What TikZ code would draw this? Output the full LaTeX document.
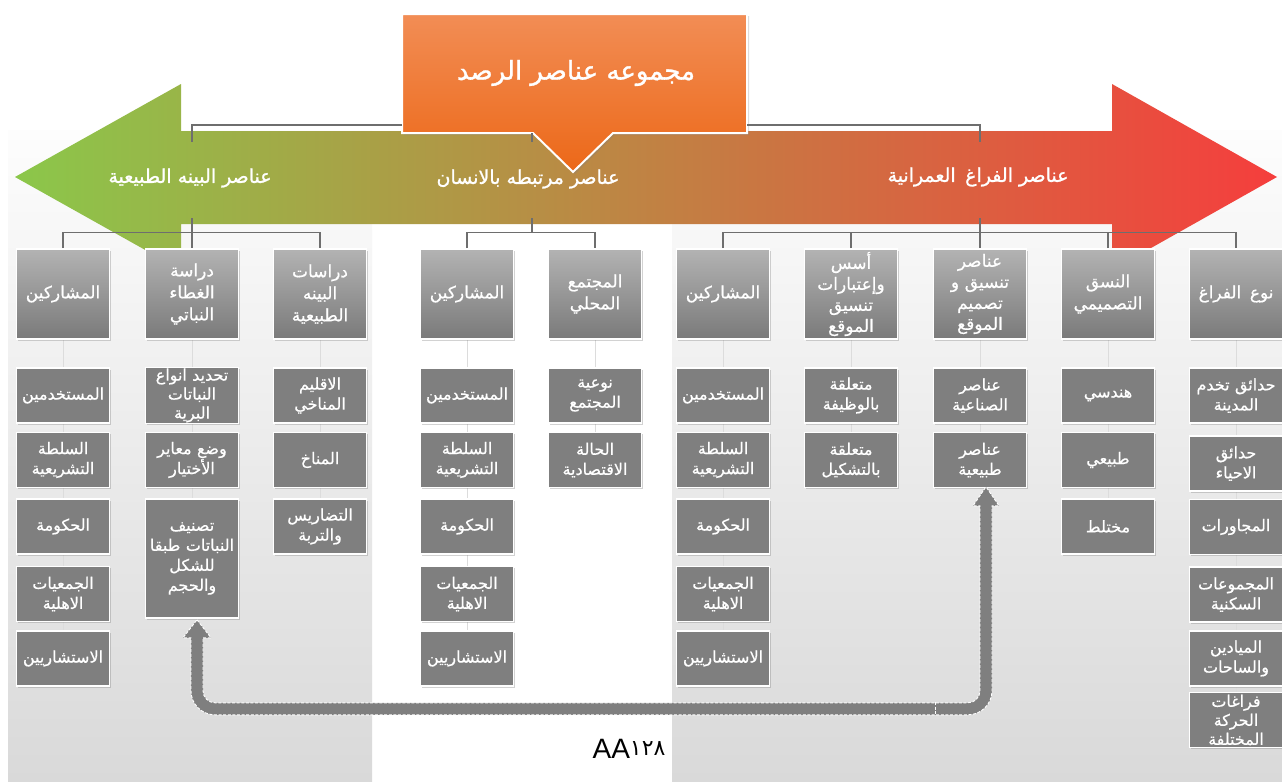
\documentclass[tikz,border=0pt]{standalone}
\usepackage{fontspec}
\setmainfont{Liberation Sans}
\newfontfamily\arabicfont[Script=Arabic,FakeBold=0.6]{DejaVu Sans}
\newfontfamily\arabicheavy[Script=Arabic,FakeBold=1.2]{DejaVu Sans}
\TeXXeTstate=1
\usetikzlibrary{shadows,calc}
\pgfdeclarelayer{bg}
\pgfdeclarelayer{mid}
\pgfsetlayers{bg,mid,main}
\newcommand\RLt[1]{\mbox{\beginR#1\endR}}
\definecolor{agreen}{HTML}{8BC74A}
\definecolor{abrown}{HTML}{C97B42}
\definecolor{ared}{HTML}{F53E3D}
\definecolor{otop}{HTML}{F28D55}
\definecolor{obot}{HTML}{EC6818}
\definecolor{hdtop}{HTML}{B3B3B3}
\definecolor{hdbot}{HTML}{7A7A7A}
\definecolor{itemgray}{HTML}{7F7F7F}
\definecolor{conngray}{HTML}{6E6E6E}
\definecolor{faintgray}{HTML}{DCDCDC}
\definecolor{paneltop}{HTML}{FDFDFD}
\definecolor{panelbot}{HTML}{D9D9D9}
\begin{document}
\begin{tikzpicture}[x=0.5pt,y=-0.5pt,
  boxshadow/.style={drop shadow={shadow xshift=0.7pt,shadow yshift=-0.9pt,opacity=0.35}},
  hdr/.style={rectangle,draw=white,line width=0.8pt,top color=hdtop,bottom color=hdbot,
    minimum width=46.5pt,minimum height=45pt,text width=45pt,inner sep=0.5pt,align=center,
    text=white,font=\arabicfont\fontsize{8.5}{11}\selectfont,boxshadow},
  itm/.style={rectangle,draw=white,line width=0.8pt,fill=itemgray,
    minimum width=46.5pt,minimum height=27.5pt,text width=45pt,inner sep=0.5pt,align=center,
    text=white,font=\arabicfont\fontsize{8}{10}\selectfont,boxshadow},
  lbl/.style={text=white,font=\arabicheavy\fontsize{9.5}{11}\selectfont,inner sep=1pt},
  conn/.style={draw=conngray,line width=0.55pt},
  faint/.style={draw=faintgray,line width=0.5pt},
  tight/.style={font=\arabicfont\fontsize{8}{9.5}\selectfont},
  tighthdr/.style={font=\arabicfont\fontsize{8.5}{10.5}\selectfont}]
\useasboundingbox (0,0) rectangle (1282,782);

\begin{pgfonlayer}{bg}
  \fill[white] (0,0) rectangle (1282,782);
  \shade[top color=paneltop,bottom color=panelbot] (8,130) rectangle (372,782);
  \shade[top color=paneltop,bottom color=panelbot] (672,130) rectangle (1282,782);
\end{pgfonlayer}

% big double-headed arrow
\shade[left color=agreen,middle color=abrown,right color=ared]
  (15,177) -- (181,84) -- (181,131) -- (1112,131) -- (1112,84) -- (1277,177)
  -- (1112,270) -- (1112,224) -- (181,224) -- (181,270) -- cycle;

% header boxes
\node[hdr] (h1) at (63,294) {\RLt{المشاركين}};
\node[hdr] (h2) at (192,294) {\RLt{دراسة}\\\RLt{الغطاء}\\\RLt{النباتي}};
\node[hdr] (h3) at (320,294) {\RLt{دراسات}\\\RLt{البينه}\\\RLt{الطبيعية}};
\node[hdr] (h4) at (467,294) {\RLt{المشاركين}};
\node[hdr] (h5) at (595,294) {\RLt{المجتمع}\\\RLt{المحلي}};
\node[hdr] (h6) at (723,294) {\RLt{المشاركين}};
\node[hdr,tighthdr] (h7) at (851,294) {\RLt{أسس}\\\RLt{وإعتبارات}\\\RLt{تنسيق}\\\RLt{الموقع}};
\node[hdr,tighthdr] (h8) at (980,294) {\RLt{عناصر}\\\RLt{تنسيق و}\\\RLt{تصميم}\\\RLt{الموقع}};
\node[hdr] (h9) at (1108,294) {\RLt{النسق}\\\RLt{التصميمي}};
\node[hdr] (h10) at (1236,294) {\RLt{نوع\hspace{0.5em}الفراغ}};

% participant columns
\foreach \cx/\cn in {63/c1,467/c4,723/c6}{
  \node[itm] (\cn-r1) at (\cx,395.5) {\RLt{المستخدمين}};
  \node[itm] (\cn-r2) at (\cx,460) {\RLt{السلطة}\\\RLt{التشريعية}};
  \node[itm] (\cn-r3) at (\cx,526.5) {\RLt{الحكومة}};
  \node[itm] (\cn-r4) at (\cx,594) {\RLt{الجمعيات}\\\RLt{الاهلية}};
  \node[itm] (\cn-r5) at (\cx,658.5) {\RLt{الاستشاريين}};
}
% column 2
\node[itm,tight] (c2-r1) at (192,395.5) {\RLt{تحديد انواع}\\\RLt{النباتات}\\\RLt{البرية}};
\node[itm] (c2-r2) at (192,460) {\RLt{وضع معاير}\\\RLt{الأختيار}};
\node[itm,minimum height=59.5pt] (c2-r3) at (192,558.5) {\RLt{تصنيف}\\\RLt{النباتات طبقا}\\\RLt{للشكل}\\\RLt{والحجم}};
% column 3
\node[itm] (c3-r1) at (320,395.5) {\RLt{الاقليم}\\\RLt{المناخي}};
\node[itm] (c3-r2) at (320,460) {\RLt{المناخ}};
\node[itm] (c3-r3) at (320,526.5) {\RLt{التضاريس}\\\RLt{والتربة}};
% column 5
\node[itm] (c5-r1) at (595,395.5) {\RLt{نوعية}\\\RLt{المجتمع}};
\node[itm] (c5-r2) at (595,460) {\RLt{الحالة}\\\RLt{الاقتصادية}};
% column 7
\node[itm] (c7-r1) at (851,395.5) {\RLt{متعلقة}\\\RLt{بالوظيفة}};
\node[itm] (c7-r2) at (851,460) {\RLt{متعلقة}\\\RLt{بالتشكيل}};
% column 8
\node[itm] (c8-r1) at (980,395.5) {\RLt{عناصر}\\\RLt{الصناعية}};
\node[itm] (c8-r2) at (980,460) {\RLt{عناصر}\\\RLt{طبيعية}};
% column 9
\node[itm] (c9-r1) at (1108,395.5) {\RLt{هندسي}};
\node[itm] (c9-r2) at (1108,460) {\RLt{طبيعي}};
\node[itm] (c9-r3) at (1108,526.5) {\RLt{مختلط}};
% column 10
\node[itm] (c10-r1) at (1236,395.5) {\RLt{حدائق تخدم}\\\RLt{المدينة}};
\node[itm] (c10-r2) at (1236,463.5) {\RLt{حدائق}\\\RLt{الاحياء}};
\node[itm] (c10-r3) at (1236,527) {\RLt{المجاورات}};
\node[itm] (c10-r4) at (1236,594.5) {\RLt{المجموعات}\\\RLt{السكنية}};
\node[itm] (c10-r5) at (1236,658.5) {\RLt{الميادين}\\\RLt{والساحات}};
\node[itm,tight] (c10-r6) at (1236,720) {\RLt{فراغات}\\\RLt{الحركة}\\\RLt{المختلفة}};

% faint column links
\begin{pgfonlayer}{mid}
  \foreach \hh/\ll in {h1/c1-r5,h2/c2-r3,h3/c3-r3,h4/c4-r5,h5/c5-r2,h6/c6-r5,h7/c7-r2,h8/c8-r2,h9/c9-r3,h10/c10-r6}
    \draw[faint] (\hh.south) -- (\ll.north);
\end{pgfonlayer}

% orange callout
\path[draw=white,line width=1pt,top color=otop,bottom color=obot,
  drop shadow={shadow xshift=1pt,shadow yshift=-1pt,opacity=0.3}]
  (402,14) -- (747,14) -- (747,133) -- (613,133) -- (573,172) -- (533,133) -- (402,133) -- cycle;
\node[text=white,font=\arabicheavy\fontsize{13}{15}\selectfont] (title) at (576,73) {\RLt{مجموعه عناصر الرصد}};

% level-1 labels
\node[lbl] (L1) at (190,178) {\RLt{عناصر البينه الطبيعية}};
\node[lbl] (L2) at (528,179) {\RLt{عناصر مرتبطه بالانسان}};
\node[lbl] (L3) at (978,177) {\RLt{عناصر الفراغ\hspace{0.5em}العمرانية}};

\coordinate (tl) at (402,125);
\coordinate (tr) at (747,125);
\coordinate (tm) at (532,133);
\coordinate (L1t) at (192,142);
\coordinate (L2t) at (532,142);
\coordinate (L3t) at (980,142);
\coordinate (L1b) at (192,218);
\coordinate (L2b) at (532,218);
\coordinate (L3b) at (980,218);

\draw[conn] (tl) -| (L1t);
\draw[conn] (tr) -| (L3t);
\draw[conn] (tm) -- (L2t);

% left group
\draw[conn] (L1b) -- (h2.north);
\draw[conn] (h1.north) -- ++(0,-16) -| (h3.north);
% middle group
\draw[conn] (L2b) -- (L2b |- 0,233);
\draw[conn] (h4.north) -- ++(0,-16) -| (h5.north);
% right group
\draw[conn] (L3b) -- (h8.north);
\draw[conn] (h6.north) -- ++(0,-16) -| (h10.north);
\foreach \hh in {h7,h9} \draw[conn] (\hh.north) -- ++(0,-16);

% gray link arrow from c8-r2 to c2-r3
\coordinate (aE) at ($(c2-r3.south)+(5,1)$);
\filldraw[fill=itemgray,draw=white,line width=0.45pt,dash pattern=on 1.5pt off 0.8pt]
  (aE) -- ++(14,18) -- ++(-8,0) -- ++(0,53)
  arc[start angle=180,end angle=90,radius=12] -- ++(753,0)
  arc[start angle=90,end angle=0,radius=12] -- ++(0,-185) -- ++(-7,0) -- ++(13,-19)
  -- ++(13,19) -- ++(-7,0) -- ++(0,185)
  arc[start angle=0,end angle=90,radius=24] -- ++(-753,0)
  arc[start angle=90,end angle=180,radius=24] -- ++(0,-53) -- ++(-8,0) -- cycle;
\coordinate (aj1) at (935,702);
\coordinate (aj2) at (935,714);
\draw[white,line width=0.45pt,dash pattern=on 1.5pt off 0.8pt] (aj1) -- (aj2);

% page number
\node (pg) at (629,749) {\fontsize{14}{16}\selectfont AA\raisebox{1.5pt}{\fontspec[Script=Arabic]{DejaVu Sans}\fontsize{11}{12}\selectfont ١٢٨}};
\end{tikzpicture}
\end{document}
